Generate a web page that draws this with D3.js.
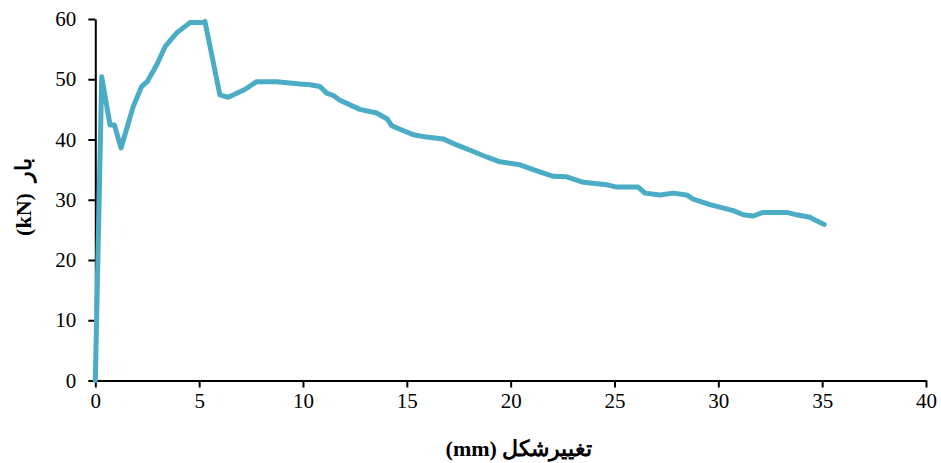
<!DOCTYPE html>
<html>
<head>
<meta charset="utf-8">
<script src="https://cdn.jsdelivr.net/npm/d3@7"></script>
<style>
  html, body { margin: 0; padding: 0; background: #fff; }
  svg { display: block; }
</style>
</head>
<body>
<svg id="chart" width="941" height="463"></svg>
<script>
// Data (deformation in mm, load in kN)
const deformation = [0, 0.31, 0.71, 0.92, 1.24, 1.59, 1.83, 2.23, 2.5, 2.96, 3.36, 3.92, 4.56, 5.2, 5.28,
  6.0, 6.4, 7.2, 7.77, 8.73, 9.85, 10.34, 10.82, 11.14, 11.46, 11.78, 12.74, 13.55, 14.06, 14.27, 14.67,
  15.31, 15.96, 16.75, 17.4, 18.2, 18.84, 19.49, 20.45, 21.09, 22.05, 22.7, 23.5, 24.62, 25.1, 26.14,
  26.47, 27.19, 27.83, 28.47, 28.79, 29.6, 30.72, 31.2, 31.68, 32.16, 33.29, 33.77, 34.41, 34.73, 35.1];
const load = [0, 50.4, 42.4, 42.4, 38.6, 42.7, 45.5, 48.8, 49.6, 52.4, 55.4, 57.7, 59.4, 59.4, 59.6,
  47.4, 47.0, 48.3, 49.6, 49.6, 49.2, 49.1, 48.8, 47.7, 47.3, 46.5, 45.0, 44.4, 43.4, 42.3, 41.7,
  40.8, 40.4, 40.1, 39.1, 38.0, 37.1, 36.3, 35.8, 35.0, 33.9, 33.8, 32.9, 32.5, 32.1, 32.1,
  31.1, 30.8, 31.1, 30.8, 30.1, 29.2, 28.2, 27.5, 27.3, 27.9, 27.9, 27.5, 27.1, 26.5, 25.9];
const xTicks = [0, 5, 10, 15, 20, 25, 30, 35, 40];
const yTicks = [0, 10, 20, 30, 40, 50, 60];
const xLabel = "تغییرشکل (mm)";
const yLabel = "بار\u00A0\u00A0(kN)";

const svg = d3.select("#chart");
const x = d3.scaleLinear().domain([0, 40]).range([95.3, 926]);
const y = d3.scaleLinear().domain([0, 60]).range([380.5, 19]);

const font = "'Liberation Serif', 'Times New Roman', 'DejaVu Serif', serif";

// X axis
const gx = svg.append("g").attr("transform", `translate(0,${y(0)})`)
  .call(d3.axisBottom(x).tickValues(xTicks).tickSize(7).tickPadding(6).tickSizeOuter(0));
// Y axis
const gy = svg.append("g").attr("transform", `translate(${x(0)},0)`)
  .call(d3.axisLeft(y).tickValues(yTicks).tickSize(7).tickPadding(12).tickSizeOuter(0));

[gx, gy].forEach(g => {
  g.select(".domain").attr("stroke", "#000").attr("stroke-width", 2);
  g.selectAll(".tick line").attr("stroke", "#000").attr("stroke-width", 2);
  g.selectAll(".tick text").attr("font-family", font).attr("font-size", 21).attr("fill", "#000");
});

// Line
const line = d3.line().x((d, i) => x(deformation[i])).y(d => y(d));
svg.append("path")
  .datum(load)
  .attr("d", line)
  .attr("fill", "none")
  .attr("stroke", "#4BACC6")
  .attr("stroke-width", 5)
  .attr("stroke-linejoin", "round")
  .attr("stroke-linecap", "round");

// Axis titles
svg.append("text")
  .attr("x", 519).attr("y", 456)
  .attr("text-anchor", "middle")
  .attr("direction", "rtl")
  .attr("font-family", font)
  .attr("font-weight", "bold")
  .attr("font-size", 22)
  .attr("fill", "#000")
  .text(xLabel);

svg.append("text")
  .attr("transform", "translate(31,197) rotate(-90)")
  .attr("text-anchor", "middle")
  .attr("direction", "rtl")
  .attr("font-family", font)
  .attr("font-weight", "bold")
  .attr("font-size", 22)
  .attr("fill", "#000")
  .text(yLabel);
</script>
</body>
</html>
